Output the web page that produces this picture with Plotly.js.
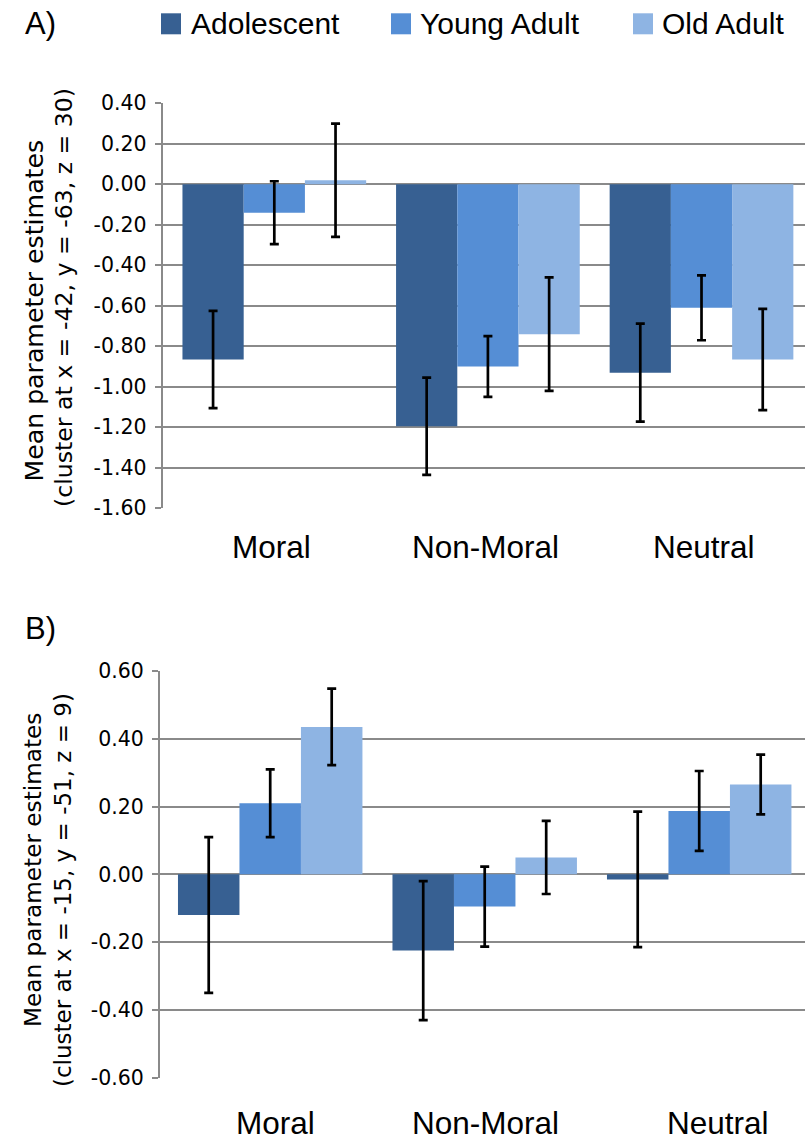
<!DOCTYPE html>
<html>
<head>
<meta charset="utf-8">
<script src="https://cdn.plot.ly/plotly-3.0.1.min.js"></script>
<style>html,body{margin:0;padding:0;background:#fff;}#chart{width:805px;height:1142px;}</style>
</head>
<body>
<div id="chart"></div>
<script>
// ---- data ----
const categories = ['Moral', 'Non-Moral', 'Neutral'];
const groups = ['Adolescent', 'Young Adult', 'Old Adult'];
const colors = ['#376092', '#558ED5', '#8EB4E3'];

// Panel A (cluster at x = -42, y = -63, z = 30)
const aAdolescent = [-0.865, -1.195, -0.93];
const aAdolescentErr = [0.24, 0.24, 0.242];
const aYoungAdult = [-0.14, -0.90, -0.61];
const aYoungAdultErr = [0.155, 0.15, 0.16];
const aOldAdult = [0.02, -0.74, -0.865];
const aOldAdultErr = [0.28, 0.28, 0.25];

// Panel B (cluster at x = -15, y = -51, z = 9)
const bAdolescent = [-0.12, -0.225, -0.015];
const bAdolescentErr = [0.23, 0.205, 0.20];
const bYoungAdult = [0.21, -0.095, 0.187];
const bYoungAdultErr = [0.10, 0.118, 0.118];
const bOldAdult = [0.435, 0.05, 0.265];
const bOldAdultErr = [0.113, 0.108, 0.088];

const aTickVals = [0.4, 0.2, 0, -0.2, -0.4, -0.6, -0.8, -1.0, -1.2, -1.4, -1.6];
const aTickText = ['0.40', '0.20', '0.00', '-0.20', '-0.40', '-0.60', '-0.80', '-1.00', '-1.20', '-1.40', '-1.60'];
const bTickVals = [0.6, 0.4, 0.2, 0, -0.2, -0.4, -0.6];
const bTickText = ['0.60', '0.40', '0.20', '0.00', '-0.20', '-0.40', '-0.60'];

const aTitle = ['Mean parameter estimates', '(cluster at x = -42, y = -63, z = 30)'];
const bTitle = ['Mean parameter estimates', '(cluster at x = -15, y = -51, z = 9)'];
const panelLabels = ['A)', 'B)'];

// ---- helpers ----
const W = 805, H = 1142;
const px = x => x / W;
const py = y => 1 - y / H;
const GRID = '#8a8a8a';

function barTrace(name, vals, errs, color, xa, ya) {
  return {
    type: 'bar', name: name, x: categories, y: vals,
    xaxis: xa, yaxis: ya,
    marker: {color: color, line: {width: 0}},
    error_y: {type: 'data', array: errs, visible: true, color: '#000', thickness: 2.7, width: 4.5},
    hoverinfo: 'skip', showlegend: false
  };
}

const data = [
  barTrace(groups[0], aAdolescent, aAdolescentErr, colors[0], 'x', 'y'),
  barTrace(groups[1], aYoungAdult, aYoungAdultErr, colors[1], 'x', 'y'),
  barTrace(groups[2], aOldAdult, aOldAdultErr, colors[2], 'x', 'y'),
  barTrace(groups[0], bAdolescent, bAdolescentErr, colors[0], 'x2', 'y2'),
  barTrace(groups[1], bYoungAdult, bYoungAdultErr, colors[1], 'x2', 'y2'),
  barTrace(groups[2], bOldAdult, bOldAdultErr, colors[2], 'x2', 'y2')
];

const tickFont = {family: 'DejaVu Sans', size: 20.5, color: '#000'};
function yAxis(domain, range, tv, tt, anchor) {
  return {
    domain: domain, range: range, anchor: anchor,
    tickmode: 'array', tickvals: tv, ticktext: tt,
    showgrid: true, gridcolor: GRID, gridwidth: 2,
    zeroline: false,
    showline: true, linecolor: GRID, linewidth: 2,
    ticks: 'outside', ticklen: 6, tickwidth: 2, tickcolor: GRID,
    ticklabelstandoff: 4,
    tickfont: tickFont, fixedrange: true
  };
}
function xAxis(domain, range, anchor) {
  return {
    domain: domain, range: range, anchor: anchor, type: 'category',
    showticklabels: false, ticks: '', showgrid: false, zeroline: false, showline: false,
    fixedrange: true
  };
}

const annotations = [];
const shapes = [];
const catFont = {family: 'Liberation Sans, Arial, sans-serif', size: 31.5, color: '#000'};

// category labels
const aCatX = [271.2, 485.4, 704];
const bCatX = [275.4, 485.4, 718];
categories.forEach((c, i) => {
  annotations.push({text: c, xref: 'paper', yref: 'paper', x: px(aCatX[i]), y: py(547.3),
    xanchor: 'center', yanchor: 'middle', showarrow: false, font: catFont});
  annotations.push({text: c, xref: 'paper', yref: 'paper', x: px(bCatX[i]), y: py(1123.3),
    xanchor: 'center', yanchor: 'middle', showarrow: false, font: catFont});
});

// y titles (two rotated lines each)
const titleFamily = 'DejaVu Sans';
annotations.push({text: aTitle[0], xref: 'paper', yref: 'paper', x: px(34), y: py(310.5), textangle: -90,
  xanchor: 'center', yanchor: 'middle', showarrow: false, font: {family: titleFamily, size: 25.2, color: '#000'}});
annotations.push({text: aTitle[1], xref: 'paper', yref: 'paper', x: px(64), y: py(298), textangle: -90,
  xanchor: 'center', yanchor: 'middle', showarrow: false, font: {family: titleFamily, size: 23.6, color: '#000'}});
annotations.push({text: bTitle[0], xref: 'paper', yref: 'paper', x: px(32), y: py(870), textangle: -90,
  xanchor: 'center', yanchor: 'middle', showarrow: false, font: {family: titleFamily, size: 23.2, color: '#000'}});
annotations.push({text: bTitle[1], xref: 'paper', yref: 'paper', x: px(63), y: py(890), textangle: -90,
  xanchor: 'center', yanchor: 'middle', showarrow: false, font: {family: titleFamily, size: 23.0, color: '#000'}});

// panel letters
const letterFont = {family: 'Liberation Sans, Arial, sans-serif', size: 31, color: '#000'};
annotations.push({text: panelLabels[0], xref: 'paper', yref: 'paper', x: px(23), y: py(24),
  xanchor: 'left', yanchor: 'middle', showarrow: false, font: letterFont});
annotations.push({text: panelLabels[1], xref: 'paper', yref: 'paper', x: px(23), y: py(628),
  xanchor: 'left', yanchor: 'middle', showarrow: false, font: letterFont});

// legend (swatch + label)
const legSwatchX = [161, 391, 633];
const legTextX = [189, 418, 660];
const legendFont = {family: 'Liberation Sans, Arial, sans-serif', size: 30, color: '#000'};
groups.forEach((g, i) => {
  shapes.push({type: 'rect', xref: 'paper', yref: 'paper',
    x0: px(legSwatchX[i]), x1: px(legSwatchX[i] + 20), y0: py(34.3), y1: py(13.3),
    fillcolor: colors[i], line: {width: 0}});
  annotations.push({text: g, xref: 'paper', yref: 'paper', x: px(legTextX[i]), y: py(23.8),
    xanchor: 'left', yanchor: 'middle', showarrow: false, font: legendFont});
});

const layout = {
  width: W, height: H,
  margin: {l: 0, r: 0, t: 0, b: 0, pad: 0},
  paper_bgcolor: '#fff', plot_bgcolor: '#fff',
  showlegend: false,
  barmode: 'group', bargap: 0.14, bargroupgap: 0,
  xaxis: xAxis([px(162.7), 1], [-0.5225, 2.4845], 'y'),
  yaxis: yAxis([py(508.3), py(103.3)], [-1.6, 0.4], aTickVals, aTickText, 'x'),
  xaxis2: xAxis([px(160), 1], [-0.5138, 2.4932], 'y2'),
  yaxis2: yAxis([py(1077.7), py(671)], [-0.6, 0.6], bTickVals, bTickText, 'x2'),
  annotations: annotations,
  shapes: shapes
};

Plotly.newPlot('chart', data, layout, {displayModeBar: false, staticPlot: true});
</script>
</body>
</html>
